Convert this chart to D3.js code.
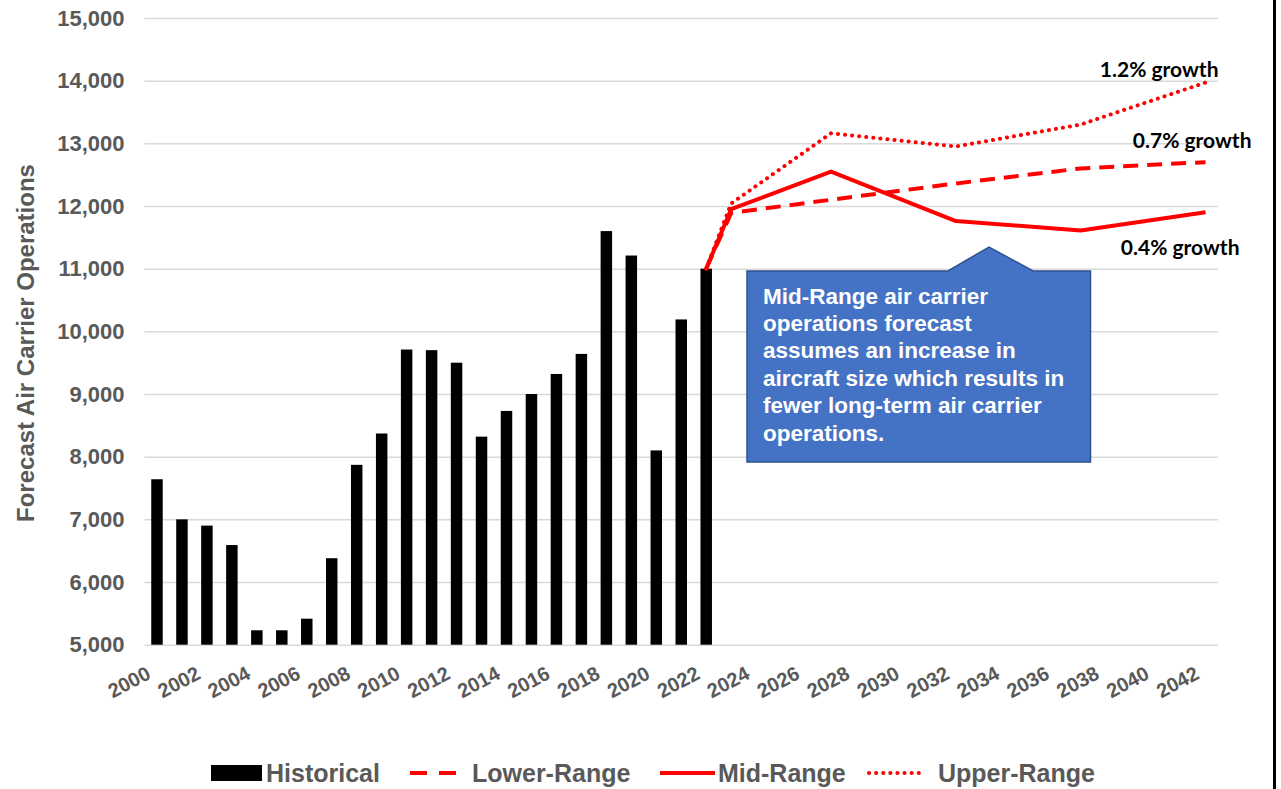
<!DOCTYPE html>
<html>
<head>
<meta charset="utf-8">
<script src="https://cdnjs.cloudflare.com/ajax/libs/d3/7.8.5/d3.min.js"></script>
<style>
  body { margin: 0; background: #ffffff; }
  svg { display: block; }
</style>
</head>
<body>
<svg id="chart" width="1281" height="789"></svg>
<script>
// Category axis (one band per year)
const years = [2000, 2001, 2002, 2003, 2004, 2005, 2006, 2007, 2008, 2009, 2010,
               2011, 2012, 2013, 2014, 2015, 2016, 2017, 2018, 2019, 2020, 2021,
               2022, 2023, 2024, 2025, 2026, 2027, 2028, 2029, 2030, 2031, 2032,
               2033, 2034, 2035, 2036, 2037, 2038, 2039, 2040, 2041, 2042];

// Historical air carrier operations
const histYears = [2000, 2001, 2002, 2003, 2004, 2005, 2006, 2007, 2008, 2009, 2010,
                   2011, 2012, 2013, 2014, 2015, 2016, 2017, 2018, 2019, 2020, 2021, 2022];
const histValues = [7640, 7000, 6900, 6590, 5230, 5230, 5415, 6380, 7870, 8370, 9710,
                    9700, 9500, 8320, 8730, 9000, 9320, 9640, 11600, 11210, 8100, 10190, 11000];

// Forecast scenarios
const fcYears = [2022, 2023, 2027, 2032, 2037, 2042];
const lowerRange = [11000, 11890, 12100, 12360, 12600, 12700];
const midRange   = [11000, 11950, 12550, 11760, 11610, 11900];
const upperRange = [11000, 12040, 13160, 12950, 13300, 13970];

// Axis ticks
const yTicks = [5000, 6000, 7000, 8000, 9000, 10000, 11000, 12000, 13000, 14000, 15000];
const xTickYears = [2000, 2002, 2004, 2006, 2008, 2010, 2012, 2014, 2016, 2018, 2020,
                    2022, 2024, 2026, 2028, 2030, 2032, 2034, 2036, 2038, 2040, 2042];

const growthLabels = ["1.2% growth", "0.7% growth", "0.4% growth"];
const calloutLines = ["Mid-Range air carrier", "operations forecast", "assumes an increase in",
                      "aircraft size which results in", "fewer long-term air carrier", "operations."];
const legendNames = ["Historical", "Lower-Range", "Mid-Range", "Upper-Range"];

const RED = "#ff0000";
const GRAY = "#595959";
const AXISFONT = "'Liberation Sans', Arial, sans-serif";

const svg = d3.select("#chart");
const plotL = 144.5, plotR = 1218, plotT = 18, plotB = 644.7;

const x = d3.scaleBand().domain(years).range([plotL, plotR])
  .paddingInner(0.54).paddingOuter(0.27);
const cx = yr => x(yr) + x.bandwidth() / 2;
const y = d3.scaleLinear().domain([5000, 15000]).range([plotB, plotT]);

// Gridlines + y tick labels
const yAxis = svg.append("g")
  .attr("transform", `translate(${plotL},0)`)
  .call(d3.axisLeft(y).tickValues(yTicks).tickFormat(d3.format(","))
        .tickSize(-(plotR - plotL)).tickPadding(20));
yAxis.select(".domain").remove();
yAxis.selectAll("line").attr("stroke", "#d9d9d9").attr("stroke-width", 1.5);
yAxis.selectAll("text")
  .attr("fill", GRAY).style("font-family", AXISFONT)
  .style("font-size", "22px").style("font-weight", "bold");

// X tick labels (rotated)
const xAxis = svg.append("g")
  .attr("transform", `translate(0,${plotB})`)
  .call(d3.axisBottom(x).tickValues(xTickYears).tickSize(0).tickPadding(0));
xAxis.select(".domain").remove();
xAxis.selectAll("text")
  .attr("fill", GRAY).style("font-family", AXISFONT)
  .style("font-size", "20px").style("font-weight", "bold")
  .attr("text-anchor", "end")
  .attr("dy", "0")
  .attr("y", 0)
  .attr("transform", "translate(-5,33) rotate(-28)");

// Y axis title
svg.append("text")
  .attr("transform", "translate(34,343) rotate(-90)")
  .attr("text-anchor", "middle")
  .attr("fill", GRAY).style("font-family", AXISFONT)
  .style("font-size", "24px").style("font-weight", "bold")
  .text("Forecast Air Carrier Operations");

// Historical bars
svg.append("g").selectAll("rect")
  .data(histYears.map((yr, i) => ({ yr, v: histValues[i] })))
  .join("rect")
  .attr("x", d => x(d.yr))
  .attr("width", x.bandwidth())
  .attr("y", d => y(d.v))
  .attr("height", d => y(5000) - y(d.v))
  .attr("fill", "#000000");

// Forecast lines
const line = d3.line().x(d => cx(d.yr)).y(d => y(d.v));
const series = [
  { vals: lowerRange, dash: "15,9", cap: "butt" },
  { vals: upperRange, dash: "0.1,7", cap: "round" },
  { vals: midRange, dash: null, cap: "butt" }
];
series.forEach(s => {
  svg.append("path")
    .datum(fcYears.map((yr, i) => ({ yr, v: s.vals[i] })))
    .attr("d", line)
    .attr("fill", "none")
    .attr("stroke", RED)
    .attr("stroke-width", 4)
    .attr("stroke-linecap", s.cap)
    .attr("stroke-linejoin", "round")
    .attr("stroke-dasharray", s.dash);
});

// Growth labels
const glabelFont = "Lato, 'Open Sans', sans-serif";
const lastIdx = fcYears.length - 1;
const glabels = [
  { t: growthLabels[0], v: upperRange[lastIdx], dx: 13, dy: -6 },
  { t: growthLabels[1], v: lowerRange[lastIdx], dx: 46, dy: -14 },
  { t: growthLabels[2], v: midRange[lastIdx], dx: 34, dy: 43 }
];
glabels.forEach(g => {
  svg.append("text")
    .attr("x", cx(2042) + g.dx)
    .attr("y", y(g.v) + g.dy)
    .attr("text-anchor", "end")
    .attr("fill", "#000000")
    .style("font-family", glabelFont)
    .style("font-size", "21px").style("font-weight", "bold")
    .text(g.t);
});

// Callout box with pointer
const bx0 = 747, bx1 = 1090.5, by0 = 271, by1 = 462;
svg.append("path")
  .attr("d", `M${bx0},${by0} H948 L989,247 L1033,${by0} H${bx1} V${by1} H${bx0} Z`)
  .attr("fill", "#4472c4")
  .attr("stroke", "#2f528f")
  .attr("stroke-width", 1.5);
svg.append("g").selectAll("text")
  .data(calloutLines)
  .join("text")
  .attr("x", 763)
  .attr("y", (d, i) => 303.5 + i * 27.4)
  .attr("fill", "#ffffff")
  .style("font-family", AXISFONT)
  .style("font-size", "22.5px").style("font-weight", "bold")
  .text(d => d);

// Legend
const legendY = 773;
const legend = svg.append("g");
const items = [
  { name: legendNames[0], kind: "bar", x0: 211, x1: 262, tx: 266 },
  { name: legendNames[1], kind: "dash", x0: 410, x1: 465, tx: 472 },
  { name: legendNames[2], kind: "solid", x0: 660, x1: 715, tx: 718 },
  { name: legendNames[3], kind: "dot", x0: 869, x1: 925, tx: 938 }
];
items.forEach(it => {
  if (it.kind === "bar") {
    legend.append("rect").attr("x", it.x0).attr("y", legendY - 8)
      .attr("width", it.x1 - it.x0).attr("height", 16).attr("fill", "#000");
  } else {
    legend.append("line")
      .attr("x1", it.x0).attr("x2", it.x1).attr("y1", legendY).attr("y2", legendY)
      .attr("stroke", RED).attr("stroke-width", 4)
      .attr("stroke-linecap", it.kind === "dot" ? "round" : "butt")
      .attr("stroke-dasharray", it.kind === "dash" ? "17,12" : it.kind === "dot" ? "0.1,7" : null);
  }
  legend.append("text")
    .attr("x", it.tx).attr("y", legendY + 9)
    .attr("fill", GRAY).style("font-family", AXISFONT)
    .style("font-size", "25px").style("font-weight", "bold")
    .text(it.name);
});

// Right frame edge
svg.append("line")
  .attr("x1", 1274.5).attr("x2", 1274.5).attr("y1", 0).attr("y2", 789)
  .attr("stroke", "#000").attr("stroke-width", 3);
</script>
</body>
</html>
